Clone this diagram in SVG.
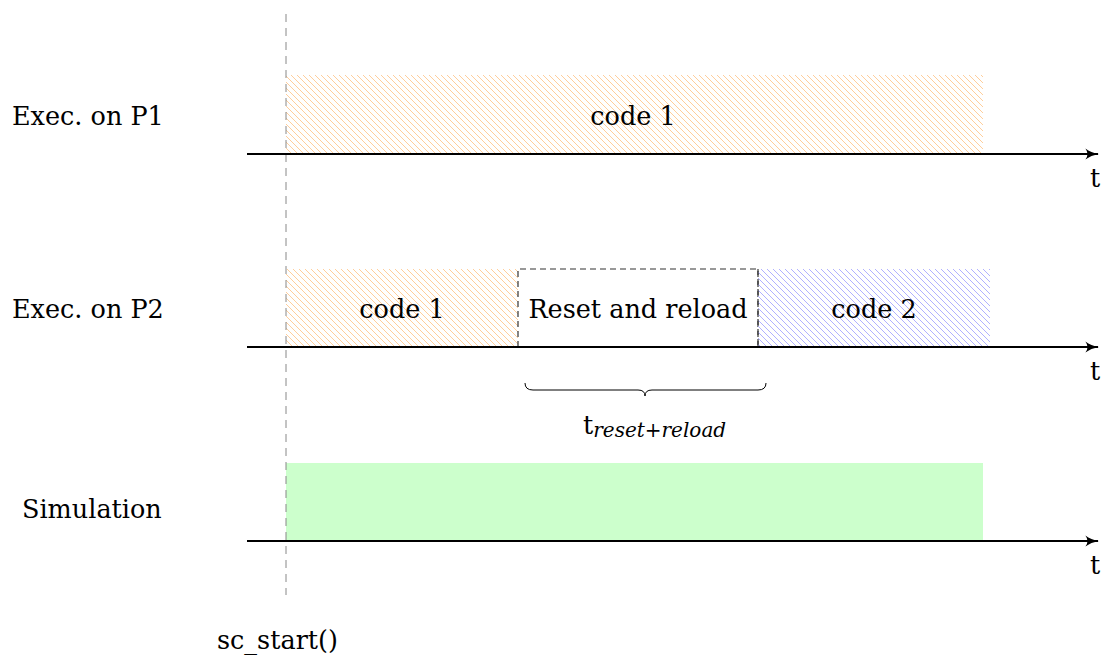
<svg xmlns="http://www.w3.org/2000/svg" width="1102" height="656" viewBox="0 0 1102 656">
<style>
text{font-family:'DejaVu Serif',serif;font-size:25.5px;fill:#000}
.axis{stroke:#000;stroke-width:1.8;fill:none}
.lbl{text-anchor:middle}
</style>
<defs>
<pattern id="hO" patternUnits="userSpaceOnUse" width="6" height="6">
<path d="M-1,-1 L7,7 M-1,5 L1,7 M5,-1 L7,1" stroke="#ffc890" stroke-width="0.9"/>
</pattern>
<pattern id="hB" patternUnits="userSpaceOnUse" width="6" height="6">
<path d="M-1,-1 L7,7 M-1,5 L1,7 M5,-1 L7,1" stroke="#a8a8ff" stroke-width="0.9"/>
</pattern>
<marker id="arr" viewBox="0 0 10 10" refX="9" refY="5" markerWidth="14" markerHeight="14" markerUnits="userSpaceOnUse" orient="auto">
<path d="M0,1 Q4,4 10,5 Q4,6 0,9 Q3,5 0,1 Z" fill="#000"/>
</marker>
</defs>
<g id="p1">
<rect x="286" y="75" width="697" height="79" fill="url(#hO)"/>
<text class="lbl" x="633" y="125">code 1</text>
</g>
<g id="p2code1">
<rect x="286" y="269" width="232" height="78" fill="url(#hO)"/>
<text class="lbl" x="402" y="318">code 1</text>
</g>
<g id="p2reset">
<path d="M518,347 L518,269 L758,269 L758,347" fill="#fff" stroke="#333" stroke-width="1.2" stroke-dasharray="6,4"/>
<text class="lbl" x="638" y="318">Reset and reload</text>
</g>
<g id="p2code2">
<rect x="758" y="269" width="232" height="78" fill="url(#hB)"/>
<line x1="758" y1="269" x2="758" y2="347" stroke="#333" stroke-width="1.2" stroke-dasharray="6,4"/>
<text class="lbl" x="874" y="318">code 2</text>
</g>
<g id="sim">
<rect x="286" y="463" width="697" height="78" fill="#ccffcc"/>
</g>
<g id="connectors">
<line x1="286" y1="14" x2="286" y2="595" stroke="#888" stroke-width="1" stroke-dasharray="8,6"/>
<line class="axis" x1="247" y1="154" x2="1098" y2="154" marker-end="url(#arr)"/>
<line class="axis" x1="247" y1="347" x2="1098" y2="347" marker-end="url(#arr)"/>
<line class="axis" x1="247" y1="541" x2="1098" y2="541" marker-end="url(#arr)"/>
<path d="M525,383 Q525,390 533,390 L638,390 Q645,390 645,396 Q645,390 652,390 L758,390 Q766,390 766,383" fill="none" stroke="#000" stroke-width="1"/>
</g>
<g id="labels">
<text x="12" y="125">Exec. on P1</text>
<text x="12" y="318">Exec. on P2</text>
<text x="22" y="518">Simulation</text>
<text x="1090" y="187">t</text>
<text x="1090" y="380">t</text>
<text x="1090" y="574">t</text>
<text x="583" y="434">t<tspan font-size="20" font-style="italic" dy="3">reset+reload</tspan></text>
<text x="217" y="649">sc_start()</text>
</g>
</svg>
